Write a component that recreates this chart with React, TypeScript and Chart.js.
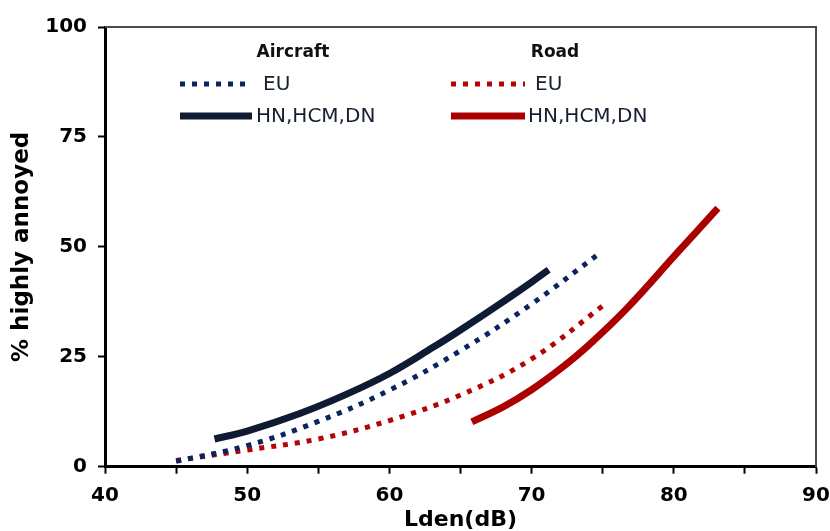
import React, { useEffect, useRef } from "react";
import { Chart, registerables } from "chart.js";

Chart.register(...registerables);

// ---- data ----
const aircraftEuX = [45, 50, 55, 60, 65, 70, 74.8];
const aircraftEuY = [1.2, 4.8, 10.3, 17.4, 26.4, 37.0, 48.6];
const aircraftVnX = [47.7, 50, 53.7, 57, 60, 63.1, 65, 67.8, 70, 71.2];
const aircraftVnY = [6.3, 8.1, 12.1, 16.5, 21.2, 27.2, 31.1, 37.1, 42.0, 44.8];
const roadEuX = [45, 50, 55, 60, 65, 70, 75.1];
const roadEuY = [1.4, 3.8, 6.3, 10.5, 16.3, 24.5, 36.8];
const roadVnX = [65.8, 68, 70, 72, 74, 76.7, 80.2, 83.1];
const roadVnY = [10.2, 13.6, 17.5, 22.2, 27.6, 36.0, 48.5, 58.8];

const xTickLabels = [40, 50, 60, 70, 80, 90];
const yTickLabels = [0, 25, 50, 75, 100];
const groupTitles = ["Aircraft", "Road"];
const seriesNames = ["EU", "HN,HCM,DN"];

const NAVY_SOLID = "#0f1b33";
const NAVY_DOT = "#0b235e";
const RED_SOLID = "#ab0000";
const RED_DOT = "#b30505";

const pts = (xs: number[], ys: number[]) => xs.map((x, i) => ({ x, y: ys[i] }));

const legendPlugin = {
  id: "customLegend",
  afterDraw(chart: any) {
    const { ctx, chartArea } = chart;
    const ds = chart.data.datasets;
    ctx.save();
    // top & right frame
    ctx.strokeStyle = "#4a4a4a";
    ctx.lineWidth = 2;
    ctx.beginPath();
    ctx.moveTo(chartArea.left, chartArea.top);
    ctx.lineTo(chartArea.right, chartArea.top);
    ctx.lineTo(chartArea.right, chartArea.bottom);
    ctx.stroke();

    const groups = [
      { title: groupTitles[0], cx: 293, sx: 180, ex: 252, tEU: 263, tVN: 256, dsEU: 0, dsVN: 1 },
      { title: groupTitles[1], cx: 555, sx: 451, ex: 525, tEU: 535, tVN: 528, dsEU: 2, dsVN: 3 },
    ];
    groups.forEach((g) => {
      ctx.fillStyle = "#111";
      ctx.font = "bold 17px 'DejaVu Sans'";
      ctx.textAlign = "center";
      ctx.textBaseline = "middle";
      ctx.fillText(g.title, g.cx, 53);

      const rows = [
        { d: ds[g.dsEU], y: 84, tx: g.tEU, label: seriesNames[0] },
        { d: ds[g.dsVN], y: 116, tx: g.tVN, label: seriesNames[1] },
      ];
      rows.forEach((r) => {
        ctx.strokeStyle = r.d.borderColor;
        ctx.lineWidth = r.d.borderWidth;
        ctx.setLineDash(r.d.borderDash || []);
        ctx.lineCap = "butt";
        ctx.beginPath();
        ctx.moveTo(g.sx, r.y);
        ctx.lineTo(g.ex, r.y);
        ctx.stroke();
        ctx.setLineDash([]);
        ctx.fillStyle = "#17202f";
        ctx.font = "20px 'DejaVu Sans'";
        ctx.textAlign = "left";
        ctx.fillText(r.label, r.tx, r.y + 1);
      });
    });
    ctx.restore();
  },
};

export default function App() {
  const ref = useRef<HTMLCanvasElement>(null);
  useEffect(() => {
    if (!ref.current) return;
    const tickFont = { family: "'DejaVu Sans'", weight: "bold" as const, size: 20 };
    const lineBase = {
      pointRadius: 0,
      tension: 0.4,
      borderCapStyle: "butt",
      fill: false,
    };
    const chart = new Chart(ref.current, {
      type: "line",
      data: {
        datasets: [
          {
            ...lineBase,
            label: "Aircraft EU",
            data: pts(aircraftEuX, aircraftEuY),
            borderColor: NAVY_DOT,
            borderWidth: 5,
            borderDash: [5, 7],
          },
          {
            ...lineBase,
            label: "Aircraft HN,HCM,DN",
            data: pts(aircraftVnX, aircraftVnY),
            borderColor: NAVY_SOLID,
            borderWidth: 7,
          },
          {
            ...lineBase,
            label: "Road EU",
            data: pts(roadEuX, roadEuY),
            borderColor: RED_DOT,
            borderWidth: 5,
            borderDash: [5, 7],
          },
          {
            ...lineBase,
            label: "Road HN,HCM,DN",
            data: pts(roadVnX, roadVnY),
            borderColor: RED_SOLID,
            borderWidth: 7,
          },
        ],
      },
      options: {
        responsive: false,
        animation: false,
        events: [],
        layout: { padding: { top: 27, right: 14, left: 0, bottom: 0 } },
        plugins: { legend: { display: false }, tooltip: { enabled: false } },
        scales: {
          x: {
            type: "linear",
            min: 40,
            max: 90,
            afterFit: (s: any) => {
              s.height = 64.3;
              s.paddingLeft = 0;
              s.paddingRight = 0;
            },
            ticks: {
              stepSize: 5,
              autoSkip: false,
              maxRotation: 0,
              padding: 10,
              color: "#000",
              font: tickFont,
              callback: (v: any) => (xTickLabels.includes(Number(v)) ? String(v) : ""),
            },
            grid: {
              display: true,
              drawOnChartArea: false,
              drawTicks: true,
              tickLength: 7,
              tickColor: "#000",
              tickWidth: 2,
            },
            border: { display: true, color: "#000", width: 3 },
            title: {
              display: true,
              text: "Lden(dB)",
              color: "#000",
              font: { family: "'DejaVu Sans'", weight: "bold", size: 22, lineHeight: 1 },
              padding: { top: 0, bottom: 0 },
            },
          },
          y: {
            type: "linear",
            min: 0,
            max: 100,
            afterFit: (s: any) => {
              s.width = 105;
              s.paddingTop = 0;
              s.paddingBottom = 0;
            },
            ticks: {
              stepSize: 25,
              padding: 11,
              color: "#000",
              font: tickFont,
              callback: (v: any) => (yTickLabels.includes(Number(v)) ? String(v) : ""),
            },
            grid: {
              display: true,
              drawOnChartArea: false,
              drawTicks: true,
              tickLength: 7,
              tickColor: "#000",
              tickWidth: 2,
            },
            border: { display: true, color: "#000", width: 3 },
            title: {
              display: true,
              text: "% highly annoyed",
              color: "#000",
              font: { family: "'DejaVu Sans'", weight: "bold", size: 23, lineHeight: 1 },
              padding: { top: 11, bottom: 0 },
            },
          },
        },
      },
      plugins: [legendPlugin],
    } as any);
    return () => chart.destroy();
  }, []);

  return (
    <div style={{ position: "absolute", left: 0, top: 0, width: 830, height: 531, background: "#fff" }}>
      <canvas ref={ref} width={830} height={531} style={{ display: "block" }} />
    </div>
  );
}
